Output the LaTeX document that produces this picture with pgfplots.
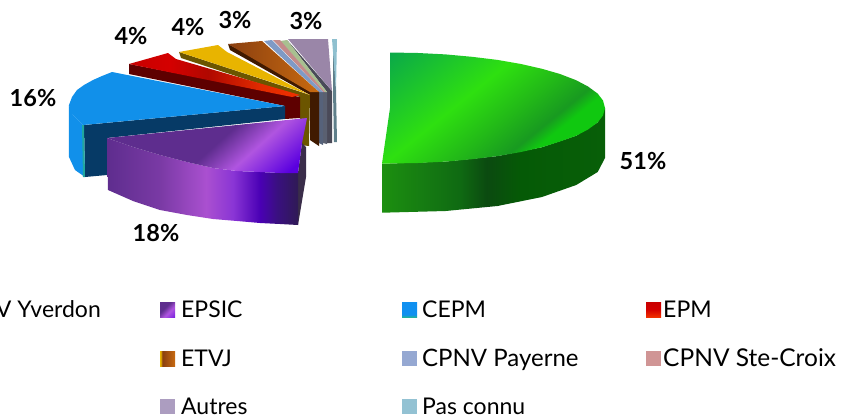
\documentclass[border=0pt]{standalone}
\usepackage{pgfplots}
\pgfplotsset{compat=1.18}
\usepackage{fontspec}
\setmainfont{Lato}
\definecolor{ga}{HTML}{0AA84A}\definecolor{gb}{HTML}{2EE010}\definecolor{gc}{HTML}{22B818}\definecolor{gd}{HTML}{189A20}\definecolor{ge}{HTML}{10C810}
\pgfdeclarehorizontalshading{greentop}{100bp}{color(0bp)=(ga);color(16bp)=(ga);color(42bp)=(gb);color(55bp)=(gc);color(64bp)=(gd);color(68bp)=(ge);color(100bp)=(ge)}
\definecolor{sa}{HTML}{1C8F10}\definecolor{sb}{HTML}{157A12}\definecolor{sc}{HTML}{0F6A12}\definecolor{sd}{HTML}{0B4A10}\definecolor{se}{HTML}{055A06}\definecolor{sf}{HTML}{085F08}
\pgfdeclarehorizontalshading{greenside}{100bp}{color(0bp)=(sa);color(25bp)=(sa);color(35bp)=(sb);color(42.5bp)=(sc);color(48.5bp)=(sd);color(56bp)=(se);color(75bp)=(sf);color(100bp)=(sf)}
\definecolor{pa}{HTML}{5E2D8E}\definecolor{pb}{HTML}{7A3AA5}\definecolor{pc}{HTML}{AA50D0}\definecolor{pd}{HTML}{8A35D5}\definecolor{pe}{HTML}{4A00B5}\definecolor{pf}{HTML}{3A1080}\definecolor{pg}{HTML}{2F1A55}\definecolor{ph}{HTML}{B055E0}\definecolor{pi}{HTML}{5A00E0}
\pgfdeclarehorizontalshading{purpleside}{100bp}{color(0bp)=(pa);color(25bp)=(pa);color(39bp)=(pb);color(51bp)=(pc);color(58bp)=(pd);color(65bp)=(pe);color(69.5bp)=(pf);color(75bp)=(pg);color(100bp)=(pg)}
\pgfdeclarehorizontalshading{purpletop}{100bp}{color(0bp)=(pa);color(28bp)=(pa);color(52bp)=(pa);color(64bp)=(ph);color(80bp)=(pi);color(100bp)=(pi)}
\definecolor{ra}{HTML}{C80000}\definecolor{rb}{HTML}{D40000}\definecolor{rc}{HTML}{B00800}\definecolor{rd}{HTML}{E02A00}\definecolor{re}{HTML}{F03000}
\pgfdeclarehorizontalshading{redtop}{100bp}{color(0bp)=(ra);color(25bp)=(ra);color(37bp)=(rb);color(48bp)=(rc);color(63bp)=(rd);color(75bp)=(re);color(100bp)=(re)}
\definecolor{ea}{HTML}{8A3F10}\definecolor{eb}{HTML}{C86A10}
\pgfdeclarehorizontalshading{etvjtop}{100bp}{color(0bp)=(ea);color(25bp)=(ea);color(75bp)=(eb);color(100bp)=(eb)}
\pgfdeclarehorizontalshading{legepsic}{100bp}{color(0bp)=(pa);color(40bp)=(pa);color(60bp)=(ph);color(100bp)=(pi)}
\definecolor{la}{HTML}{1090F0}\definecolor{lb}{HTML}{20B0A0}
\pgfdeclareverticalshading{legcepm}{100bp}{color(0bp)=(lb);color(25bp)=(lb);color(33bp)=(la);color(100bp)=(la)}
\pgfdeclareverticalshading{legepm}{100bp}{color(0bp)=(re);color(25bp)=(re);color(50bp)=(rb);color(75bp)=(ra);color(100bp)=(ra)}
\definecolor{ey}{HTML}{E8B400}
\pgfdeclarehorizontalshading{legetvj}{100bp}{color(0bp)=(ey);color(27bp)=(ey);color(33bp)=(ea);color(75bp)=(eb);color(100bp)=(eb)}
\definecolor{cPas}{HTML}{8FC0CF}\definecolor{cPasD}{HTML}{5F7F8A}
\definecolor{cAut}{HTML}{9A86A8}\definecolor{cAutD}{HTML}{4A4A58}
\definecolor{cOli}{HTML}{A8C090}\definecolor{cOliD}{HTML}{5A6070}
\definecolor{cPin}{HTML}{C48A8A}
\definecolor{cPay}{HTML}{7F9AC5}\definecolor{cPayD}{HTML}{56627A}
\definecolor{cEtvD}{HTML}{401A00}
\definecolor{cYel}{HTML}{E8B400}\definecolor{cYelD}{HTML}{6B5500}
\definecolor{cRedD}{HTML}{5E0000}
\definecolor{cBlu}{HTML}{1190EA}\definecolor{cBluD}{HTML}{063A66}\definecolor{cTea}{HTML}{20A8A0}
\definecolor{cCut}{HTML}{3A2D4A}
\definecolor{kPay}{HTML}{95A8D2}\definecolor{kPin}{HTML}{D09595}\definecolor{kAut}{HTML}{AC9DC0}\definecolor{kPas}{HTML}{93C2D3}
\newcommand\flt[2]{\addplot[draw=none,fill=#1,mark=none,forget plot] coordinates {#2} --cycle;}
\newcommand\shd[3]{\addplot[draw=none,shading=#1,shading angle=#2,mark=none,forget plot] coordinates {#3} --cycle;}
\begin{document}
\begin{tikzpicture}
\clip (0,0) rectangle (843pt,418pt);
\begin{axis}[at={(0,0)},anchor=south west,scale only axis,width=843pt,height=418pt,xmin=0,xmax=843,ymin=0,ymax=418,y dir=reverse,hide axis,clip=false]
% Pas connu
\flt{cPasD}{(333,45)(336,90)(337,142)(334,142)(333,90)}
\flt{cPas}{(332,39)(337,39)(336,90)}
% Autres
\flt{cAutD}{(287,40)(332,91)(332,143)(327,143)(327,92)}
\flt{cAut}{(288,39)(328,39)(332,91)}
% green-grey slice
\flt{cOliD}{(323,92)(327,92)(327,144)(323,143)}
\flt{cOli}{(280,41)(287,40)(327,92)(325,92)}
% CPNV Ste-Croix
\flt{cPin}{(273,40)(280,40)(325,92)(323,92)}
% CPNV Payerne
\flt{cPayD}{(319,92)(323,92)(323,145)(319,143)}
\flt{cPay}{(264,41)(272,40)(323,92)(319,92)}
% ETVJ
\flt{cEtvD}{(228,44)(230,50)(310,95)(310,140)(319,146)(319,92)}
\shd{etvjtop}{0}{(228,44)(262,41)(319,92)(310,92)}
% yellow
\flt{cYelD}{(179,52)(181,58)(300,97)(300,145)(309,146)(310,95)}
\flt{cYel}{(179,52)(218,45)(227,52)(310,95)(305,93)}
% EPM
\flt{cRedD}{(129,64)(129,74)(285,106)(285,119)(300,118)(300,97)}
\shd{redtop}{0}{(129,64)(168,53)(176,59)(300,95)(292,97)}
% CEPM
\flt{cBluD}{(84,125)(285,106)(285,119)(107,138)(107,175)(85,177)}
\flt{cBlu}{(69,105)(69,157)(75,170)(85,177)(83,125)(73,115)}
\flt{cTea}{(82,125)(84,125)(85,177)(83,177)}
\flt{cBlu}{(112,72)(102,76)(93,80)(84,85)(77,90)(72,97)(69,105)(70,110)(73,115)(78,120)(83,125)(285,106)}
% EPSIC
\flt{cCut}{(298,173)(302,143)(306,147)(306,177)(298,225)}
\shd{purpleside}{0}{(107,138)(133,147)(160,155)(187,162)(213,168)(237,171)(260,172)(280,173)(298,173)(298,225)(280,224)(260,223)(237,221)(213,219)(187,215)(160,210)(133,201)(108,190)}
\shd{purpletop}{-48}{(107,138)(307,118)(302,143)(298,173)(280,173)(260,172)(237,171)(213,168)(187,162)(160,155)(133,147)}
% green
\shd{greenside}{0}{(382,163.5)(390,163.5)(445.6,161.6)(497.5,156.1)(542,147.2)(576.2,135.75)(597.7,122.4)(605,108)(605,158)(597.7,172)(576.2,185)(542,197)(497.5,206)(445.6,211)(390,212.5)(382,212.5)}
\shd{greentop}{-51}{(390,52.5)(418,53)(445.6,54.4)(472,56.8)(497.5,59.9)(521,64)(542,68.8)(560,74)(576.2,80.25)(588,86.5)(597.7,93.6)(603,100.5)(605,108)(603,115.5)(597.7,122.4)(588,129.5)(576.2,135.75)(560,141.5)(542,147.2)(521,152)(497.5,156.1)(472,159.2)(445.6,161.6)(418,163)(390,163.5)(382,163.5)(390,108)}
% legend keys
\shd{legepsic}{-45}{(160,302)(175,302)(175,317)(160,317)}
\shd{legcepm}{0}{(402,302)(417,302)(417,317)(402,317)}
\shd{legepm}{0}{(646,302)(661,302)(661,317)(646,317)}
\shd{legetvj}{0}{(160,351)(175,351)(175,366)(160,366)}
\flt{kPay}{(402,351)(417,351)(417,366)(402,366)}
\flt{kPin}{(646,351)(661,351)(661,366)(646,366)}
\flt{kAut}{(160,399)(175,399)(175,414)(160,414)}
\flt{kPas}{(402,399)(417,399)(417,414)(402,414)}
% labels
\tikzset{pl/.style={font=\fontsize{23.5}{23.5}\selectfont\bfseries,text=black,inner sep=0pt},lg/.style={font=\fontsize{23}{23}\selectfont,text=black,inner sep=0pt,anchor=base west}}
\node[pl] at (axis cs:643,161) {51\%};
\node[pl] at (axis cs:156,233) {18\%};
\node[pl] at (axis cs:33,98) {16\%};
\node[pl] at (axis cs:131,36) {4\%};
\node[pl] at (axis cs:188,27) {4\%};
\node[pl] at (axis cs:235,20) {3\%};
\node[pl] at (axis cs:306,21) {3\%};
\node[lg,anchor=base east] at (axis cs:101,317) {CPNV Yverdon};
\node[lg] at (axis cs:181,317) {EPSIC};
\node[lg] at (axis cs:422,317) {CEPM};
\node[lg] at (axis cs:663,317) {EPM};
\node[lg] at (axis cs:181,366) {ETVJ};
\node[lg,font=\fontsize{24}{24}\selectfont] at (axis cs:422,366) {CPNV Payerne};
\node[lg,font=\fontsize{24.5}{24.5}\selectfont] at (axis cs:663,366) {CPNV Ste-Croix};
\node[lg] at (axis cs:181,414) {Autres};
\node[lg] at (axis cs:422,414) {Pas connu};
\end{axis}
\end{tikzpicture}
\end{document}
